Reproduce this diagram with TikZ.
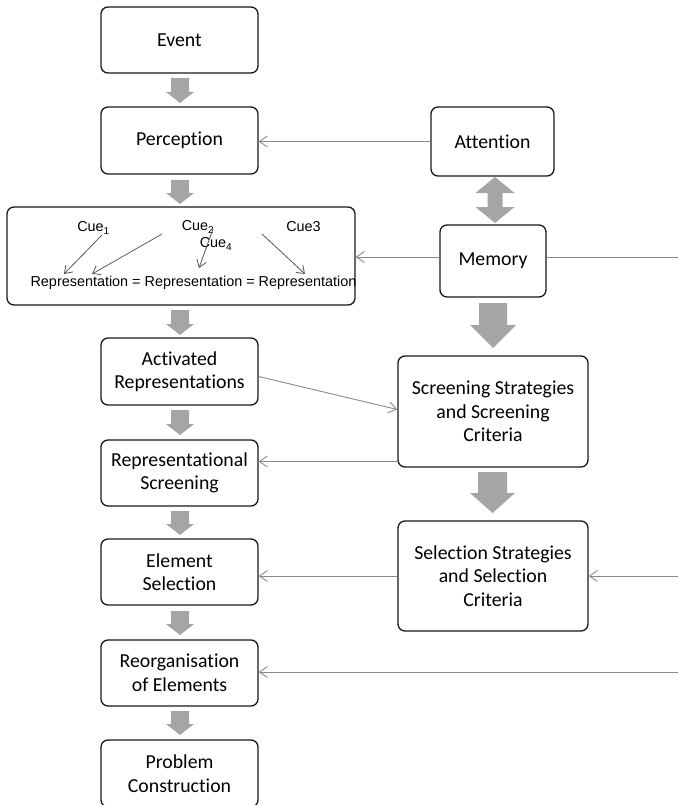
\documentclass[tikz,border=0pt]{standalone}
\usepackage{fontspec}
\setmainfont{Carlito}[Ligatures=NoCommon]
\newfontfamily\cuefont{Liberation Sans}
\usetikzlibrary{arrows.meta}
\definecolor{blockgray}{HTML}{A5A5A5}
\definecolor{conngray}{HTML}{8A8A8A}
\definecolor{cuegray}{HTML}{555555}
\newcommand\blkarrow[6]{% x, ytop, ytip, shaft width, head width, head length
  \fill[blockgray] (#1-#4/2,#2) -- (#1+#4/2,#2) -- (#1+#4/2,#3-#6) -- (#1+#5/2,#3-#6)
    -- (#1,#3) -- (#1-#5/2,#3-#6) -- (#1-#4/2,#3-#6) -- cycle;}
\begin{document}
\begin{tikzpicture}[x=1pt,y=-1pt,
  box/.style={draw=black!90, line width=1.3pt, rounded corners=7pt, align=center,
    font=\fontsize{19.8}{23.5}\selectfont, inner sep=0pt},
  lbox/.style={box, minimum width=157pt, minimum height=66pt},
  rbox/.style={box, minimum width=190pt, minimum height=110pt},
  conn/.style={conngray, line width=0.9pt, -{Straight Barb[length=8pt,width=11pt,line width=0.9pt]}},
  plain/.style={conngray, line width=0.9pt},
  cuetxt/.style={font=\cuefont\fontsize{14.4}{16}\selectfont, inner sep=0pt},
  cuearr/.style={cuegray, line width=0.8pt, -{Straight Barb[length=7pt,width=10pt,line width=0.8pt]}}
]
\useasboundingbox (0,0) rectangle (678,805);

% left column
\node[lbox] (event) at (179.5,40) {Event};
\node[lbox, minimum height=67pt] (perc) at (179.5,140.5) {Perception};
\node[box, minimum width=348pt, minimum height=98pt] (cue) at (181,256) {};
\node[lbox, minimum height=67pt] (act) at (179.5,371.5) {Activated\\Representations};
\node[lbox] (rs) at (179.5,473) {Representational\\Screening};
\node[lbox] (el) at (179.5,572) {Element\\Selection};
\node[lbox] (reorg) at (179.5,673) {Reorganisation\\of Elements};
\node[lbox, minimum height=67pt] (prob) at (179.5,773.5) {Problem\\Construction};

% right column
\node[box, minimum width=123pt, minimum height=69pt] (att) at (492.5,141.5) {Attention};
\node[box, minimum width=106pt, minimum height=72pt] (mem) at (493,261) {Memory};
\node[rbox, minimum height=111pt] (scr) at (493,411.5) {Screening Strategies\\and Screening\\Criteria};
\node[rbox] (sel) at (493,576) {Selection Strategies\\and Selection\\Criteria};

% cue box contents
\node[cuetxt] (c1) at (93.5,228) {Cue\textsubscript{1}};
\node[cuetxt] (c2) at (198,227) {Cue\textsubscript{2}};
\node[cuetxt] (c4) at (216,244) {Cue\textsubscript{4}};
\node[cuetxt] (c3) at (303.5,227) {Cue3};
\node[cuetxt] (rep) at (193.5,283) {Representation = Representation = Representation};

\coordinate (s1) at (102,235);  \coordinate (e1) at (64,274);
\coordinate (s2) at (162,234);  \coordinate (e2) at (92,274);
\coordinate (s4) at (213,229);  \coordinate (e4) at (199,268);
\coordinate (s3) at (262,234);  \coordinate (e3) at (305,274);
\draw[cuearr] (s1) -- (e1);
\draw[cuearr] (s2) -- (e2);
\draw[cuearr] (s4) -- (e4);
\draw[cuearr] (s3) -- (e3);

% block arrows, left column
\blkarrow{180}{78}{103}{18}{28}{11}
\blkarrow{180}{180}{204}{18}{28}{11}
\blkarrow{180}{310}{335}{18}{28}{11}
\blkarrow{180}{410}{435}{18}{28}{11}
\blkarrow{180}{511}{535}{18}{28}{11}
\blkarrow{180}{611}{635}{18}{28}{11}
\blkarrow{180}{711}{735}{18}{28}{11}

% block arrows, right column
\blkarrow{493}{303}{348}{28}{46}{23}
\blkarrow{492.5}{472}{513}{29}{45}{20}
\fill[blockgray] (495,177) -- (514.5,193) -- (502.5,193) -- (502.5,207) -- (514.5,207)
  -- (495,223) -- (475.5,207) -- (487.5,207) -- (487.5,193) -- (475.5,193) -- cycle;

% connectors
\draw[conn] (att.west) -- (att.west -| perc.east);
\coordinate (mw) at ([yshift=4pt]mem.west);
\coordinate (me) at ([yshift=4pt]mem.east);
\coordinate (mr) at (678,257);
\draw[conn] (mw) -- (mw -| cue.east);
\draw[plain] (me) -- (mr);
\draw[conn] ([yshift=-5pt]act.east) -- ([yshift=2pt]scr.west);
\coordinate (sl) at ([yshift=-50pt]scr.west);
\draw[conn] (sl) -- (sl -| rs.east);
\draw[conn] (sel.west) -- (sel.west -| el.east);
\coordinate (selr) at (678,576);
\draw[conn] (selr) -- (sel.east);
\coordinate (reor) at (678,672);
\draw[conn] (reor) -- (reor -| reorg.east);
\end{tikzpicture}
\end{document}
